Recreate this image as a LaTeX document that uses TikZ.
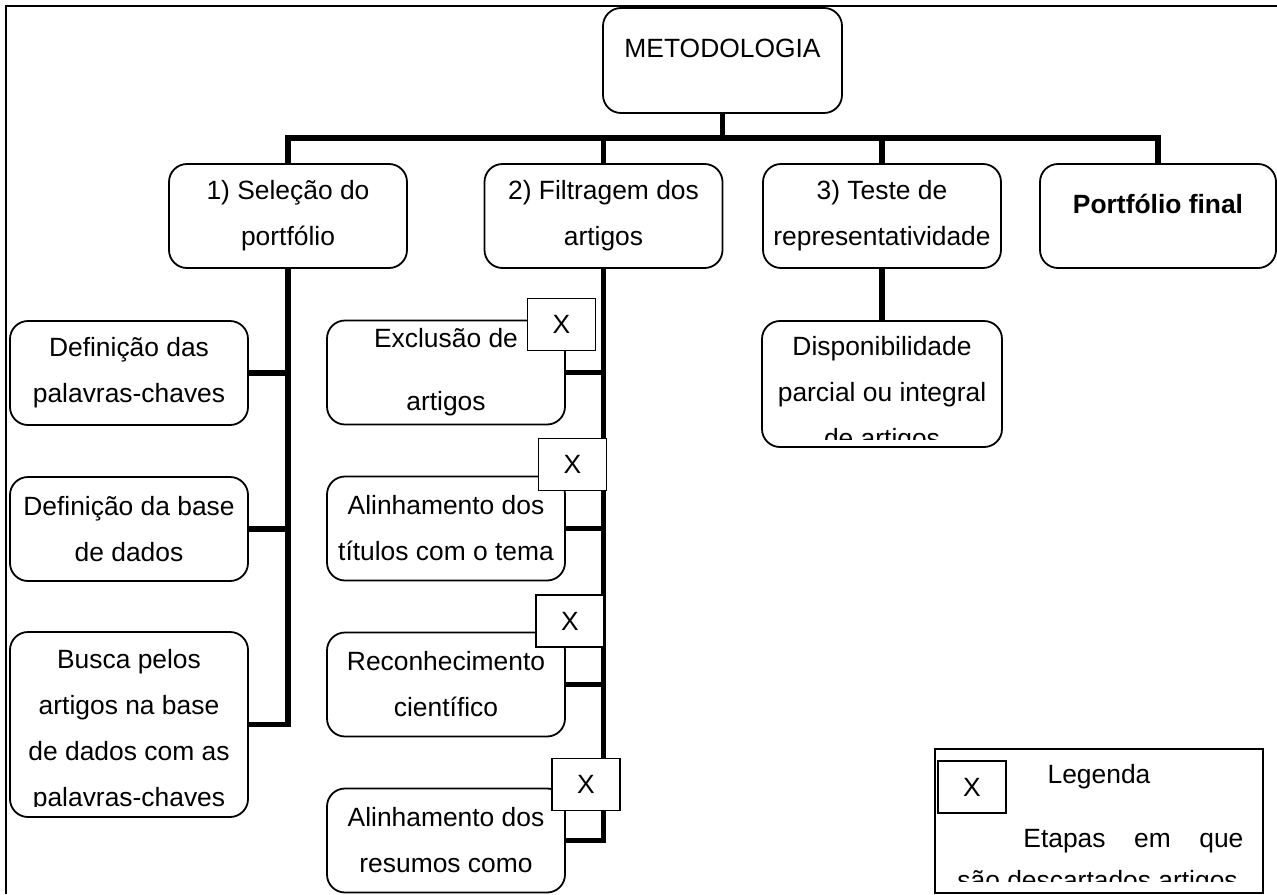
\documentclass[tikz,border=0pt]{standalone}
\usepackage{fontspec}
\setmainfont{Liberation Sans}
\usepackage{tikz}
\usetikzlibrary{positioning,calc}

\tikzset{
  stepbox/.style={draw,line width=0.9pt,rounded corners=9pt,align=center,minimum width=119pt,minimum height=52pt,inner sep=0pt},
  xbox/.style={draw,fill=white,line width=0.7pt,minimum width=34pt,minimum height=26pt,inner sep=0pt},
  wire/.style={line width=2.6pt},
}

\begin{document}
\begin{tikzpicture}[x=0.5pt,y=-0.5pt,font=\fontsize{13.2}{23}\selectfont]
\useasboundingbox (0,0) rectangle (1277,894);
% frame
\draw[line width=1.2pt] (6,894) -- (6,6) -- (1277,6);

% top level
\node[stepbox,minimum width=119.5pt,minimum height=52.5pt] (metod) at (722.5,60.5) {METODOLOGIA\\[-11pt]\mbox{}};
\node[stepbox,minimum height=52pt] (s1) at (288,216) {1) Seleção do\\portfólio};
\node[stepbox,minimum height=52pt] (s2) at (603.5,216) {2) Filtragem dos\\artigos};
\node[stepbox,minimum height=52pt] (s3) at (882,216) {3) Teste de\\representatividade};
\node[stepbox,minimum width=118pt,minimum height=52pt] (s4) at (1158,216) {\textbf{Portfólio final}\\[-11pt]\mbox{}};
\coordinate (bus) at (0,138);
\draw[wire] (metod.south) -- (metod.south |- bus);
\draw[wire,line width=3pt] (s1.north) -- (s1.north |- bus) -- (s4.north |- bus) -- (s4.north);
\draw[wire] (s2.north) -- (s2.north |- bus);
\draw[wire] (s3.north) -- (s3.north |- bus);

% 1) selecao
\node[stepbox] (a1) at (129,373) {Definição das\\palavras-chaves};
\node[stepbox] (a2) at (129,529) {Definição da base\\de dados};
\node[stepbox,minimum height=92.5pt] (a3) at (129,724.5) {};
\begin{scope}
\clip (a3.north west) rectangle ([yshift=5.5pt]a3.south east);
\node[align=center] (a3t) at ([yshift=-3pt]a3.center) {Busca pelos\\artigos na base\\de dados com as\\palavras-chaves};
\end{scope}
\draw[wire] (s1.south) |- (a3.east);
\draw[wire] (a1.east) -- (a1.east -| s1.south);
\draw[wire] (a2.east) -- (a2.east -| s1.south);

% 2) filtragem
\node[stepbox] (b1) at (446,372.5) {Exclusão de\\[8.5pt]artigos};
\node[stepbox] (b2) at (446,528.5) {Alinhamento dos\\títulos com o tema};
\node[stepbox] (b3) at (446,684.5) {Reconhecimento\\científico};
\node[stepbox] (b4) at (446,840.5) {Alinhamento dos\\resumos como};
\draw[wire] (s2.south) |- (b4.east);
\foreach \b in {b1,b2,b3}
  \draw[wire] (\b.east) -- (\b.east -| s2.south);
\node[xbox] (x1) at (561.5,324.5) {X};
\node[xbox] (x2) at (572.5,464.5) {X};
\node[xbox] (x3) at (570,621) {X};
\node[xbox] (x4) at (586,784.5) {X};

% 3) teste
\node[stepbox,minimum width=120pt,minimum height=63pt] (disp) at (882,384) {};
\begin{scope}
\clip (disp.north west) rectangle ([yshift=4pt]disp.south east);
\node[align=center] (dispt) at ([yshift=-5.5pt]disp.center) {Disponibilidade\\parcial ou integral\\de artigos};
\end{scope}
\draw[wire] (s3.south) -- (disp.north);

% legenda
\node[draw,line width=0.9pt,minimum width=164pt,minimum height=72pt,inner sep=0pt] (leg) at (1099,821) {};
\node[xbox] (legx) at (972,787) {X};
\node (legt) at (1099,777) {Legenda};
\begin{scope}
\clip (leg.north west) rectangle ([yshift=6pt]leg.south east);
\node[text width=143pt,align=justify,inner sep=0pt,anchor=north west,font=\fontsize{13.2}{21}\selectfont] (legp) at (957,829) {\hspace*{33pt}Etapas em que\linebreak são descartados artigos};
\end{scope}
\end{tikzpicture}
\end{document}
